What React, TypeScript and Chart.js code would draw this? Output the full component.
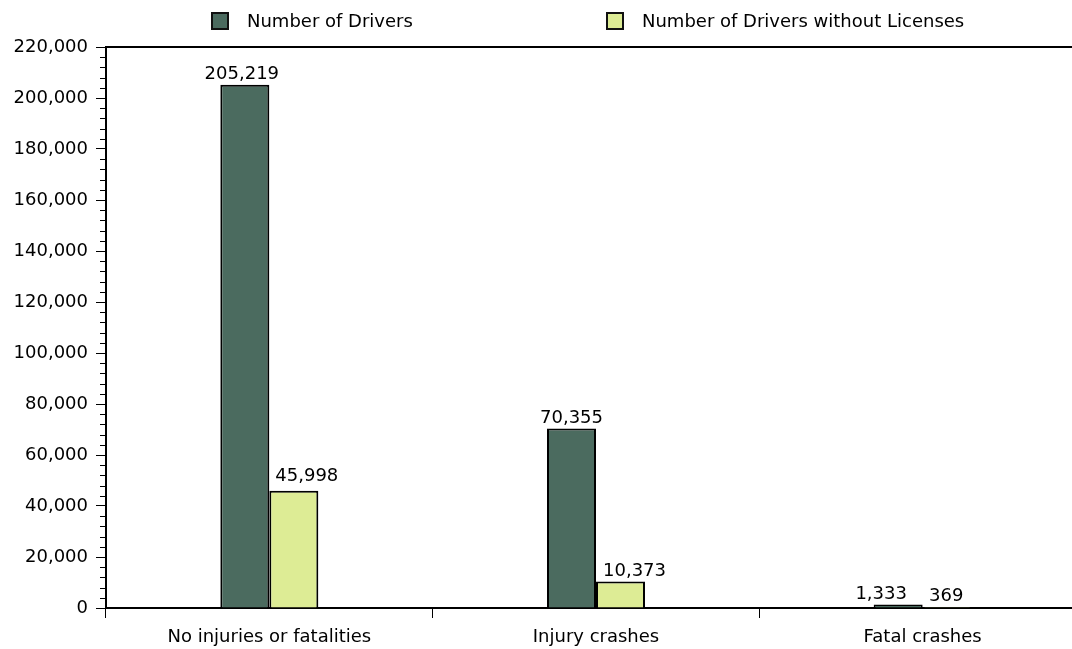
import React, { useEffect, useRef } from "react";
import { Chart, registerables } from "chart.js";

Chart.register(...registerables);

// ---- data ----
const categories = ["No injuries or fatalities", "Injury crashes", "Fatal crashes"];
const seriesNames = ["Number of Drivers", "Number of Drivers without Licenses"];
const drivers = [205219, 70355, 1333];
const driversWithoutLicenses = [45998, 10373, 369];
const yMax = 220000;
const yMajorStep = 20000;
const yMinorStep = 4000;

// ---- styling ----
const FONT = "'DejaVu Sans', Verdana, sans-serif";
const FONT_SIZE = 18;
const DARK = "#4b6b5f";
const LIGHT = "#ddec95";
const INK = "#000000";
// small [dx, dy] shifts that keep neighbouring value labels apart
const labelNudge: number[][][] = [
  [[-3, 0], [0, 0], [-17, 0]],
  [[13, -4], [14, 0], [-1, 0]],
];

const fmt = (v: number) => v.toLocaleString("en-US");

const valueLabels = {
  id: "valueLabels",
  afterDatasetsDraw(chart: any) {
    const ctx = chart.ctx;
    ctx.save();
    ctx.font = `${FONT_SIZE}px ${FONT}`;
    ctx.fillStyle = INK;
    ctx.textAlign = "center";
    ctx.textBaseline = "alphabetic";
    chart.data.datasets.forEach((ds: any, i: number) => {
      const meta = chart.getDatasetMeta(i);
      meta.data.forEach((bar: any, j: number) => {
        const [dx, dy] = labelNudge[i][j];
        ctx.fillText(fmt(ds.data[j]), bar.x + dx, bar.y - 6 + dy);
      });
    });
    ctx.restore();
  },
};

const frame = {
  id: "frame",
  afterDraw(chart: any) {
    const ctx = chart.ctx;
    const { left, right, top } = chart.chartArea;
    const y = chart.scales.y;
    ctx.save();
    // top border of the plot
    ctx.strokeStyle = INK;
    ctx.lineWidth = 2;
    ctx.beginPath();
    ctx.moveTo(left - 1, top);
    ctx.lineTo(right + 20, top);
    ctx.stroke();
    // minor ticks on the value axis
    ctx.lineWidth = 1;
    ctx.beginPath();
    for (let v = 0; v <= yMax; v += yMinorStep) {
      if (v % yMajorStep === 0) continue;
      const py = Math.round(y.getPixelForValue(v)) + 0.5;
      ctx.moveTo(left - 6, py);
      ctx.lineTo(left, py);
    }
    ctx.stroke();

    // legend
    const colors = [DARK, LIGHT];
    const boxX = [211, 606];
    ctx.font = `${FONT_SIZE}px ${FONT}`;
    ctx.textBaseline = "middle";
    ctx.textAlign = "left";
    seriesNames.forEach((name, i) => {
      ctx.fillStyle = colors[i];
      ctx.fillRect(boxX[i], 12, 18, 18);
      ctx.strokeStyle = "#111";
      ctx.lineWidth = 2;
      ctx.strokeRect(boxX[i] + 1, 13, 16, 16);
      ctx.fillStyle = INK;
      ctx.fillText(name, boxX[i] + 36, 22);
    });
    ctx.restore();
  },
};

export default function App() {
  const ref = useRef<HTMLCanvasElement>(null);

  useEffect(() => {
    if (!ref.current) return;
    Chart.defaults.font.family = FONT;
    const chart = new Chart(ref.current, {
      type: "bar",
      data: {
        labels: categories,
        datasets: [
          {
            label: seriesNames[0],
            data: drivers,
            backgroundColor: DARK,
            borderColor: INK,
            borderWidth: 2,
            categoryPercentage: 0.3,
            barPercentage: 1,
          },
          {
            label: seriesNames[1],
            data: driversWithoutLicenses,
            backgroundColor: LIGHT,
            borderColor: INK,
            borderWidth: 2,
            categoryPercentage: 0.3,
            barPercentage: 1,
          },
        ],
      },
      options: {
        animation: false,
        responsive: false,
        layout: { padding: { top: 47, left: 0, right: 0, bottom: 0 } },
        plugins: { legend: { display: false }, tooltip: { enabled: false } },
        scales: {
          x: {
            grid: {
              display: true,
              drawOnChartArea: false,
              drawTicks: true,
              tickLength: 10,
              color: INK,
              lineWidth: 1,
              offset: true,
            },
            border: { display: true, color: INK, width: 2 },
            ticks: {
              color: INK,
              font: { family: FONT, size: FONT_SIZE },
              padding: 9,
              maxRotation: 0,
              autoSkip: false,
            },
            afterFit: (s: any) => {
              s.height = 41;
            },
          },
          y: {
            min: 0,
            max: yMax,
            ticks: {
              stepSize: yMajorStep,
              color: INK,
              font: { family: FONT, size: FONT_SIZE },
              padding: 8,
              callback: (v: any) => fmt(Number(v)),
            },
            grid: {
              drawOnChartArea: false,
              tickLength: 10,
              color: INK,
              lineWidth: 1,
            },
            border: { display: true, color: INK, width: 2 },
            afterFit: (s: any) => {
              s.width = 106;
            },
          },
        },
      },
      plugins: [valueLabels, frame],
    });
    return () => chart.destroy();
  }, []);

  return (
    <div
      style={{
        position: "absolute",
        left: 0,
        top: 0,
        width: 1072,
        height: 649,
        overflow: "hidden",
        background: "#fff",
      }}
    >
      <canvas ref={ref} width={1086} height={649} style={{ display: "block" }} />
    </div>
  );
}
